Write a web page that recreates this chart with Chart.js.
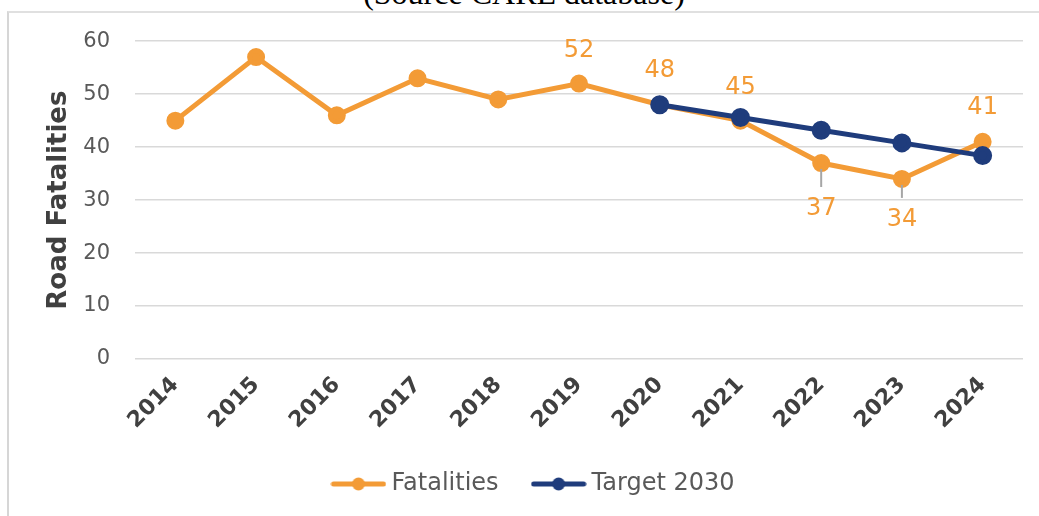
<!DOCTYPE html>
<html>
<head>
    <title>Road Fatalities</title>
    <style>
        body {
            margin: 0;
            background-color: white;
            overflow: hidden;
        }
        .caption {
            position: absolute;
            left: 0;
            width: 1048px;
            top: -23px;
            text-align: center;
            font-family: "Liberation Serif", serif;
            font-size: 32px;
            line-height: 1;
            color: #000;
        }
        .frame {
            position: absolute;
            left: 7px;
            top: 11px;
            width: 1100px;
            height: 600px;
            border-left: 2px solid #d6d6d6;
            border-top: 2px solid #e0e0e0;
        }
        #chartWrap {
            position: absolute;
            left: 9px;
            top: 12px;
            width: 1030px;
            height: 520px;
        }
    </style>
</head>
<body>
    <div class="caption">(Source CARE database)</div>
    <div class="frame"></div>
    <div id="chartWrap"><canvas id="fatalChart" width="1030" height="520"></canvas></div>

    <script src="https://cdn.jsdelivr.net/npm/chart.js"></script>
    <script>
    const years = ['2014', '2015', '2016', '2017', '2018', '2019', '2020', '2021', '2022', '2023', '2024'];
    const fatalities = [45, 57, 46, 53, 49, 52, 48, 45, 37, 34, 41];
    const target2030 = [null, null, null, null, null, null, 48, 45.6, 43.2, 40.8, 38.4];
    const labelledYears = ['2019', '2020', '2021', '2022', '2023', '2024'];

    const ORANGE = '#F39B36';
    const NAVY = '#1F3C7C';
    const FONT = '"DejaVu Sans", Verdana, sans-serif';

    // little "line with a dot" marker for the legend
    function legendMarker(color) {
        const c = document.createElement('canvas');
        c.width = 56;
        c.height = 16;
        const g = c.getContext('2d');
        g.strokeStyle = color;
        g.lineWidth = 5;
        g.lineCap = 'round';
        g.beginPath();
        g.moveTo(3, 8);
        g.lineTo(53, 8);
        g.stroke();
        g.fillStyle = color;
        g.beginPath();
        g.arc(28, 8, 6.5, 0, Math.PI * 2);
        g.fill();
        return c;
    }

    const valueLabels = {
        id: 'valueLabels',
        afterLayout(chart) {
            // legend row width includes the trailing padding, nudge it back to centre
            chart.legend.left += 20;
            chart.legend.right += 20;
        },
        afterDatasetsDraw(chart, args, opts) {
            const ctx = chart.ctx;
            const x = chart.scales.x;
            const y = chart.scales.y;
            ctx.save();
            ctx.font = '24px ' + FONT;
            ctx.fillStyle = ORANGE;
            ctx.textAlign = 'center';
            ctx.textBaseline = 'middle';
            years.forEach((yr, i) => {
                if (!labelledYears.includes(yr)) return;
                const px = x.getPixelForValue(i);
                const py = y.getPixelForValue(fatalities[i]);
                const off = opts.offsets[yr];
                if (off > 0) {
                    ctx.strokeStyle = '#a6a6a6';
                    ctx.lineWidth = 2;
                    ctx.beginPath();
                    ctx.moveTo(px, py + 6);
                    ctx.lineTo(px, py + off - 22);
                    ctx.stroke();
                }
                ctx.fillText(String(fatalities[i]), px, py + off);
            });
            ctx.restore();
        }
    };

    const ctx = document.getElementById('fatalChart').getContext('2d');
    new Chart(ctx, {
        type: 'line',
        data: {
            labels: years,
            datasets: [
                {
                    label: 'Fatalities', data: fatalities, order: 1,
                    borderColor: ORANGE, backgroundColor: ORANGE,
                    borderWidth: 5, pointRadius: 6.5, pointHoverRadius: 6.5,
                    tension: 0, fill: false
                },
                {
                    label: 'Target 2030', data: target2030, order: 0,
                    borderColor: NAVY, backgroundColor: NAVY,
                    borderWidth: 5, pointRadius: 7, pointHoverRadius: 7,
                    tension: 0, fill: false, spanGaps: false
                }
            ]
        },
        options: {
            responsive: false,
            animation: false,
            layout: { padding: { left: 0, right: 16, top: 29, bottom: 26 } },
            scales: {
                x: {
                    offset: true,
                    grid: { display: false },
                    border: { display: false },
                    ticks: {
                        minRotation: 45, maxRotation: 45, padding: 5,
                        color: '#404040',
                        font: { family: FONT, size: 22, weight: 'bold' }
                    },
                    afterFit(scale) { scale.height = 74; }
                },
                y: {
                    min: 0, max: 60,
                    grid: { color: '#d9d9d9', lineWidth: 1.5, drawTicks: false },
                    border: { display: false },
                    ticks: {
                        stepSize: 10, padding: 25,
                        color: '#595959',
                        font: { family: FONT, size: 21, lineHeight: 0.4 }
                    },
                    title: {
                        display: true,
                        text: 'Road Fatalities',
                        color: '#404040',
                        font: { family: FONT, size: 26, weight: 'bold' },
                        padding: { top: 35, bottom: 0 }
                    },
                    afterFit(scale) { scale.width = 126; }
                }
            },
            plugins: {
                legend: {
                    position: 'bottom',
                    labels: {
                        usePointStyle: true,
                        pointStyleWidth: 42,
                        padding: 39,
                        color: '#595959',
                        font: { family: FONT, size: 24 },
                        generateLabels(chart) {
                            return chart.data.datasets.map((ds, i) => ({
                                text: ds.label,
                                datasetIndex: i,
                                fontColor: '#595959',
                                pointStyle: legendMarker(ds.borderColor),
                                hidden: false,
                                lineWidth: 0
                            }));
                        }
                    }
                },
                tooltip: { enabled: false },
                valueLabels: {
                    offsets: { '2019': -33, '2020': -34, '2021': -33, '2022': 46, '2023': 41, '2024': -34 }
                }
            }
        },
        plugins: [valueLabels]
    });
    </script>
</body>
</html>
